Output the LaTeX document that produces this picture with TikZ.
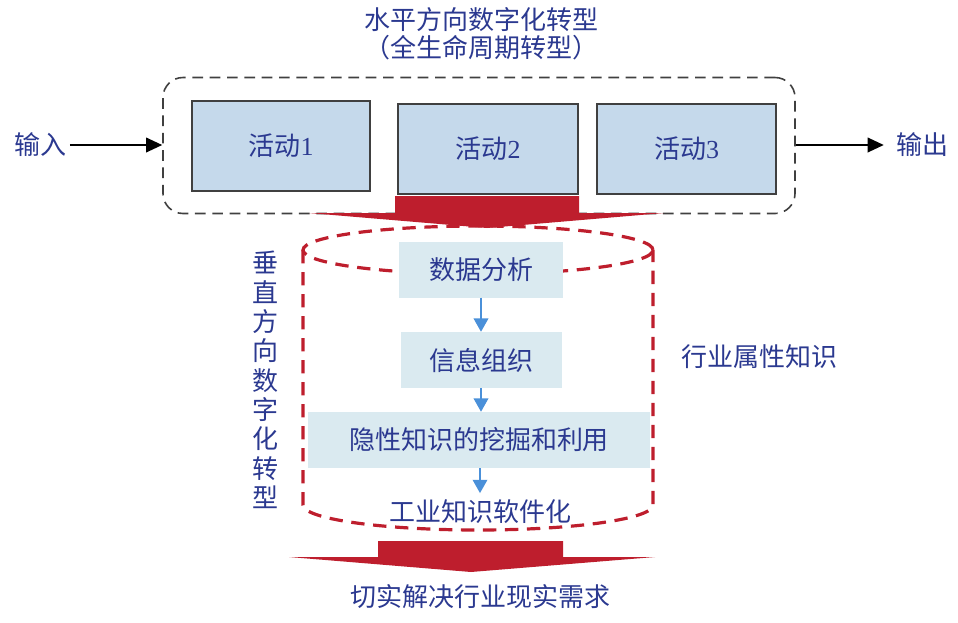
\documentclass[tikz,border=0pt]{standalone}
\usepackage{fontspec}
\setmainfont{Liberation Serif}
\newfontfamily\cjk{Noto Sans CJK SC}
\usepackage{tikz}
\usetikzlibrary{arrows.meta,positioning}
\usepackage{xcolor}
\definecolor{txtcol}{RGB}{43,57,144}
\definecolor{actcol}{RGB}{197,217,235}
\definecolor{stepcol}{RGB}{218,234,240}
\definecolor{redcol}{RGB}{190,30,45}
\definecolor{flowcol}{RGB}{74,144,217}

\begin{document}
\begin{tikzpicture}[
  x=0.75pt, y=-0.75pt,
  lbl/.style={font=\cjk\fontsize{19.5}{21}\selectfont, text=txtcol,
              inner sep=2pt, align=center},
  actbox/.style={lbl, rectangle, fill=actcol, draw=black!75,
                 line width=1.1pt, minimum width=134pt, minimum height=67.5pt},
  stepbox/.style={lbl, rectangle, fill=stepcol, minimum height=42pt},
  frame/.style={rectangle, rounded corners=15pt, draw=black!75,
                line width=1.2pt, dash pattern=on 8pt off 5pt,
                minimum width=474pt, minimum height=102pt},
  cyl/.style={draw=redcol, line width=2.4pt, dash pattern=on 10pt off 6.5pt},
  bigarrow/.style={fill=redcol},
  arr/.style={-{Triangle[length=12pt,width=11pt]}, line width=1pt,
              draw=black},
  flow/.style={-{Triangle[length=10pt,width=11pt]}, line width=1.1pt,
               draw=flowcol, fill=flowcol}
]
\useasboundingbox (0,0) rectangle (958,622);

%% Horizontal stage
\node[lbl] (title) at (481,34)
  {水平方向数字化转型\\（全生命周期转型）};
\node[frame] (frm) at (479,145.5) {};
\node[actbox, minimum width=133.5pt] (act1) at (281,146) {活动{\rmfamily 1}};
\node[actbox, minimum width=135pt]   (act2) at (488,149) {活动{\rmfamily 2}};
\node[actbox]                        (act3) at (686.5,149) {活动{\rmfamily 3}};

\node[lbl] (in)  at (41,145)  {输入};
\node[lbl] (out) at (922,145) {输出};
\draw[arr] (in.east) -- (in.east -| frm.west);
\draw[arr, shorten >=7pt] (out.west -| frm.east) -- (out.west);

%% Red arrow into the cylinder
\fill[bigarrow] (395,196) -- (579,196) -- (579,213) -- (664,213)
  -- (487,228) -- (309,213) -- (395,213) -- cycle;

%% Cylinder
\draw[cyl] (478,250) ellipse [x radius=131.25pt, y radius=18pt];
\draw[cyl] (303,250) -- (303,505)
  arc [start angle=180, end angle=360, x radius=131.25pt, y radius=18.75pt]
  -- (653,250);

%% Vertical stage
\node[stepbox, minimum width=123pt] (ana) at (481,269.5) {数据分析};
\node[stepbox, minimum width=120.75pt, below=25.5pt of ana] (org)
  {信息组织};
\node[stepbox, minimum width=256.5pt] (mine) at (479,440)
  {隐性知识的挖掘和利用};
\node[lbl, inner sep=0pt] (soft) at (480,512) {工业知识软件化};

\draw[flow] (ana.south -| org.north) -- (org.north);
\draw[flow] (org.south) -- (org.south |- mine.north);
\draw[flow, shorten >=5pt] (mine.south -| soft.north) -- (soft.north);

%% Red arrow out of the cylinder
\fill[bigarrow] (378,541) -- (563,541) -- (563,557) -- (655,557)
  -- (471,572) -- (289,557) -- (378,557) -- cycle;
\node[lbl] (need) at (480,597) {切实解决行业现实需求};

%% Side labels
\node[lbl, font=\cjk\fontsize{19.5}{22}\selectfont] (vert) at (265,380)
  {垂\\直\\方\\向\\数\\字\\化\\转\\型};
\node[lbl] (attr) at (759,357) {行业属性知识};

\end{tikzpicture}
\end{document}
